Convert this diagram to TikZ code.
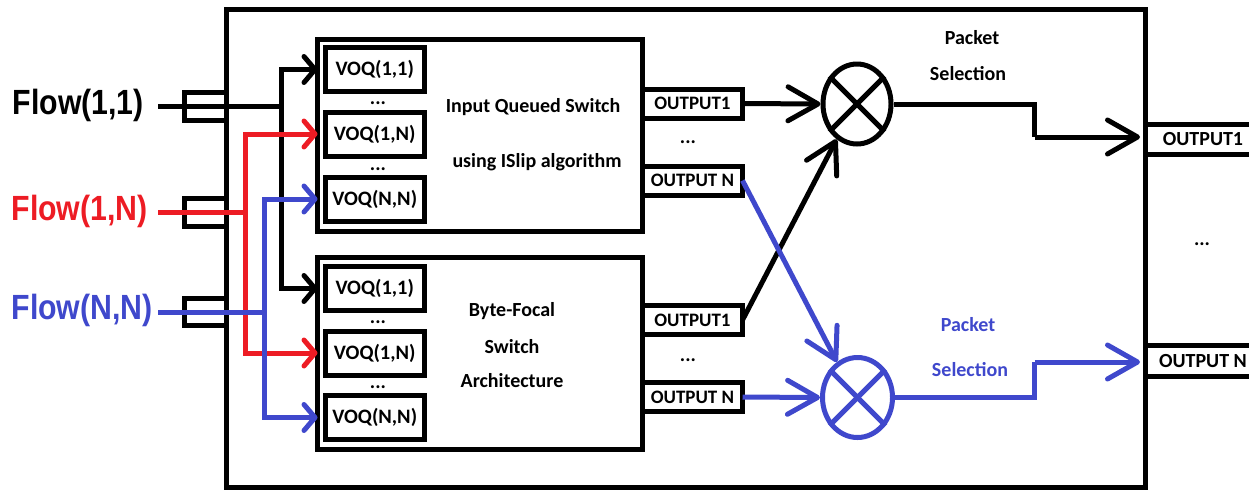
\documentclass[tikz,border=0pt]{standalone}
\usepackage{fontspec}
\setmainfont{Carlito}
\newfontfamily\flowfont{Liberation Sans}[FakeStretch=0.865]
\usetikzlibrary{arrows.meta,shapes.geometric}
\definecolor{pred}{HTML}{ED1C24}
\definecolor{pblue}{HTML}{3F48CC}
\tikzset{
  frame/.style={draw, line width=5pt, inner sep=0pt, outer sep=0pt},
  lbl/.style={font=\bfseries\fontsize{20}{22}\selectfont, inner sep=0pt},
  flowlbl/.style={font=\flowfont\bfseries\fontsize{35}{38}\selectfont, inner sep=0pt, anchor=east},
  voq/.style={frame, minimum width=98.5pt, minimum height=44pt, font=\bfseries\fontsize{20.5}{22}\selectfont},
  port/.style={frame, minimum width=42pt, minimum height=27.5pt},
  outp/.style={frame, minimum width=100pt, minimum height=29pt, font=\bfseries\fontsize{19}{21}\selectfont},
  sel/.style={draw, ellipse, line width=5pt, inner sep=0pt, minimum width=68pt, minimum height=80pt},
  wire/.style={line width=5pt},
  inarr/.style={wire, -{Straight Barb[length=11pt,width=26pt,round]}},
  bigarr/.style={wire, -{Straight Barb[length=30pt,width=34pt,round]}},
}
\begin{document}
\begin{tikzpicture}[x=1pt,y=-1pt]
\useasboundingbox (0,0) rectangle (1249,491);
% outer box
\node[frame, minimum width=919pt, minimum height=477.5pt] (outer) at (686,248.25) {};
% input ports
\node[port] (p1) at (205.5,106.25) {};
\node[port] (p2) at (205.5,212.25) {};
\node[port] (p3) at (205.5,312) {};
% flow labels
\node[flowlbl] (fl1) at (144,105) {Flow(1,1)};
\node[flowlbl, text=pred] (fl2) at (148,211) {Flow(1,N)};
\node[flowlbl, text=pblue] (fl3) at (153,310) {Flow(N,N)};
% switch boxes
\node[frame, minimum width=325pt, minimum height=192pt] (sw1) at (480,135.5) {};
\node[frame, minimum width=325pt, minimum height=192pt] (sw2) at (480,353.5) {};
% VOQs
\node[voq] (qa1) at (374.75,69.5) {VOQ(1,1)};
\node[voq] (qa2) at (374.75,134) {VOQ(1,N)};
\node[voq] (qa3) at (374.75,199) {VOQ(N,N)};
\node[voq] (qb1) at (374.75,288.5) {VOQ(1,1)};
\node[voq] (qb2) at (374.75,353) {VOQ(1,N)};
\node[voq] (qb3) at (374.75,417.5) {VOQ(N,N)};
\node[lbl, anchor=base] (da1) at (378,104) {...};
\node[lbl, anchor=base] (da2) at (378,170) {...};
\node[lbl, anchor=base] (db1) at (378,323) {...};
\node[lbl, anchor=base] (db2) at (378,388) {...};
% switch texts
\node[lbl] (t1) at (533,107) {Input Queued Switch};
\node[lbl] (t2) at (537,162) {using ISlip algorithm};
\node[lbl] (t3) at (512,311) {Byte-Focal};
\node[lbl] (t4) at (512,347) {Switch};
\node[lbl] (t5) at (512,381) {Architecture};
% output ports of switches
\node[outp] (oa1) at (692.5,103.5) {OUTPUT1};
\node[outp] (oan) at (692.5,180.5) {OUTPUT N};
\node[outp] (ob1) at (692.5,320) {OUTPUT1};
\node[outp] (obn) at (692.5,397) {OUTPUT N};
\node[lbl, anchor=base] (doa) at (688,143) {...};
\node[lbl, anchor=base] (dob) at (688,361) {...};
% selectors
\node[sel] (c1) at (857,104) {};
\node[sel, draw=pblue, minimum width=70pt] (c2) at (857.5,397.5) {};
\draw[wire] (c1.45) -- (c1.225);
\draw[wire] (c1.135) -- (c1.-45);
\draw[wire, pblue] (c2.45) -- (c2.225);
\draw[wire, pblue] (c2.135) -- (c2.-45);
% packet selection labels
\node[lbl] (ps1) at (972,38) {Packet};
\node[lbl] (ps2) at (968,74) {Selection};
\node[lbl, text=pblue] (ps3) at (968,325) {Packet};
\node[lbl, text=pblue] (ps4) at (970,370) {Selection};
% right output ports
\node[lbl, minimum height=30pt] (or1) at (1203,139.5) {OUTPUT1};
\node[lbl, minimum height=31pt] (orn) at (1203,361) {OUTPUT N};
\draw[wire] (outer.east |- or1.north) -- ++(120,0);
\draw[wire] (outer.east |- or1.south) -- ++(120,0);
\draw[wire] (outer.east |- orn.north) -- ++(120,0);
\draw[wire] (outer.east |- orn.south) -- ++(120,0);
\node[lbl, anchor=base] (dr) at (1202,245) {...};
% input wiring
\coordinate (f1) at (158,106.25);
\coordinate (f2) at (158,212.25);
\coordinate (f3) at (158,312);
\coordinate (b1) at (281,106.25);
\coordinate (r1) at (245.5,212.25);
\coordinate (u1) at (264.5,312);
\draw[wire] (f1) -- (b1);
\draw[inarr] (b1) |- (sw1.west |- qa1);
\draw[inarr] (b1) |- (sw2.west |- qb1);
\draw[wire, pred] (f2) -- (r1);
\draw[inarr, pred] (r1) |- (sw1.west |- qa2);
\draw[inarr, pred] (r1) |- (sw2.west |- qb2);
\draw[wire, pblue] (f3) -- (u1);
\draw[inarr, pblue] (u1) |- (sw1.west |- qa3);
\draw[inarr, pblue] (u1) |- (sw2.west |- qb3);
% switch outputs to selectors
\draw[bigarr] (oa1.east) -- (c1.west);
\draw[bigarr] (ob1.east) -- (c1.240);
\draw[bigarr, pblue] (oan.east) -- (c2.120);
\draw[bigarr, pblue] (obn.east) -- (c2.west);
% selectors to outputs
\coordinate (j1) at (1034.5,137);
\coordinate (e1) at (1140,137);
\coordinate (j2) at (1034.5,362);
\coordinate (e2) at (1140,362);
\draw[wire] (c1.east) -| (j1);
\draw[bigarr] (j1) -- (e1);
\draw[wire, pblue] (c2.east) -| (j2);
\draw[bigarr, pblue] (j2) -- (e2);
\end{tikzpicture}
\end{document}
